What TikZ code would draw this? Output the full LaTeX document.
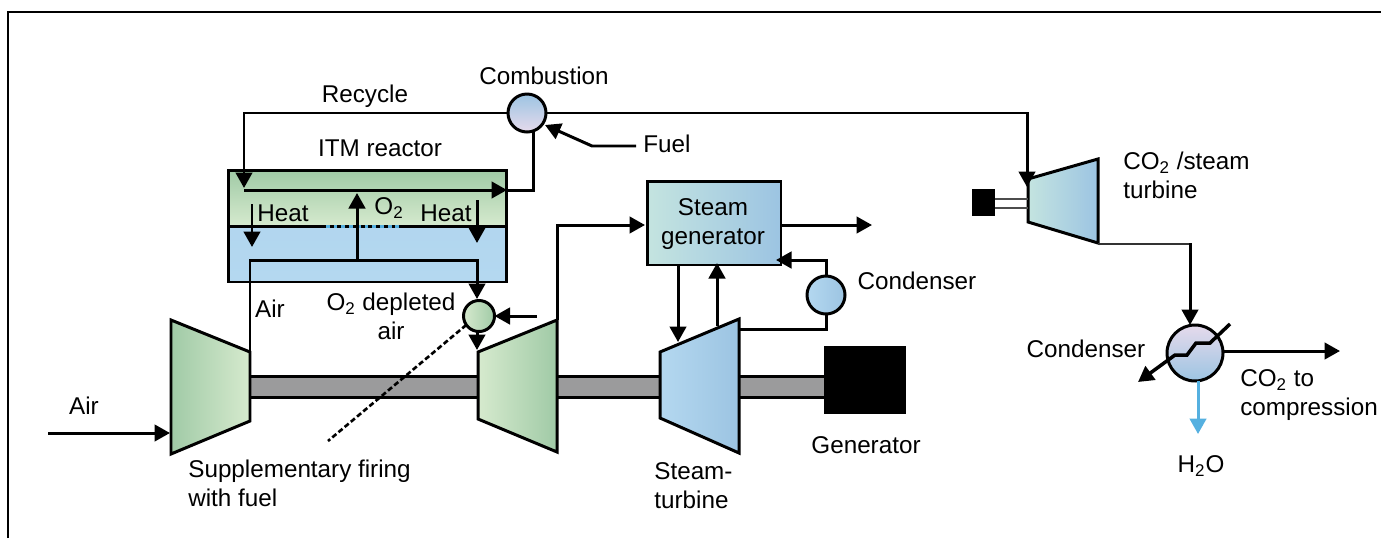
\documentclass[tikz,border=0pt]{standalone}
\usepackage{fontspec}
\setmainfont{Liberation Sans}
\usepackage{xcolor}
\usetikzlibrary{arrows.meta,calc,positioning}
\definecolor{grnDark}{HTML}{A0CAA6}
\definecolor{grnLight}{HTML}{D6EACE}
\definecolor{bluLight}{HTML}{B4D8F0}
\definecolor{bluDark}{HTML}{9CC4E2}
\definecolor{tealLight}{HTML}{C4E4E0}
\definecolor{lilac}{HTML}{E6DAEC}
\definecolor{waterBlue}{HTML}{55B0E0}
\definecolor{shaftGray}{HTML}{9B9B9C}
\tikzset{
  line/.style={line width=1.7pt,line join=miter},
  label/.style={inner sep=0pt,align=left,font=\fontsize{13.8}{16.4}\selectfont},
  vessel/.style={draw,line width=1.7pt,circle,inner sep=0pt,outer sep=0pt},
  box/.style={draw,line width=1.7pt,rectangle,inner sep=0pt,outer sep=0pt},
}
\begin{document}
\begin{tikzpicture}[x=0.02cm,y=-0.02cm,>={Triangle[length=3.1mm,width=3.3mm]}]
\useasboundingbox (0,0) rectangle (1381,538);
\draw[line width=0.6pt] (8,538) -- (8,12) -- (1381,12);
% shaft
\fill[shaftGray] (250,376) rectangle (826,397);
\foreach \y in {376,397} {\draw[line] (250,\y) -- (826,\y);}
\node[fill=black,inner sep=0pt,minimum width=1.64cm,minimum height=1.36cm] (gen) at (865,380) {};
% machines
\draw[line width=1.7pt,left color=grnDark,right color=grnLight] (171,320) -- (250,352) -- (250,421) -- (171,454) -- cycle;
\draw[line width=1.7pt,left color=grnLight,right color=grnDark] (478,352) -- (557,320) -- (557,452) -- (478,419) -- cycle;
\draw[line width=1.7pt,left color=bluLight,right color=bluDark] (660,352) -- (739,319) -- (739,453) -- (660,418) -- cycle;
\draw[line width=1.7pt,left color=tealLight,right color=bluDark] (1028,179) -- (1098,159) -- (1098,243) -- (1028,222) -- cycle;
\coordinate (compOut) at (250,352);
\coordinate (turbIn) at (477,350);
\coordinate (turbOut) at (557,320);
\coordinate (steamIn) at (678,342);
\coordinate (steamBleed) at (717,326);
\coordinate (steamOut) at (739,329);
\coordinate (co2In) at (1027,187);
\coordinate (co2Out) at (1098,244);
% ITM reactor
\node[box,top color=grnDark,bottom color=grnLight,minimum width=5.58cm,minimum height=1.12cm] (hot) at (367.5,198) {};
\node[box,top color=bluLight!90!bluDark,bottom color=bluLight,minimum width=5.58cm,minimum height=1.12cm] (cold) at (367.5,254) {};
\draw[line width=1.7pt,waterBlue] (322,226) -- (403,226);
\draw[line width=1.7pt,dash pattern=on 2.2pt off 2.2pt] (322,226) -- (403,226);
% vessels
\node[vessel,top color=bluDark,bottom color=lilac,minimum size=0.76cm] (comb) at (527,113) {};
\node[vessel,left color=grnLight,right color=grnDark,minimum size=0.62cm] (depl) at (479,316) {};
\node[vessel,left color=bluLight,right color=bluDark,minimum size=0.76cm] (cond) at (826,295) {};
\node[vessel,top color=lilac,bottom color=bluDark,minimum size=1.12cm] (cooler) at (1195,353) {};
\node[box,left color=tealLight,right color=bluDark,minimum width=2.68cm,minimum height=1.68cm] (sgen) at (714,223) {};
% CO2 turbine shaft
\node[fill=black,inner sep=0pt,minimum width=0.46cm,minimum height=0.54cm] (gen2) at (983.5,202.5) {};
\foreach \y in {199,208} {\draw[line width=0.8pt,black!70] (995,\y) -- (1028,\y);}
% recycle loop
\coordinate (rin) at (244,188);
\coordinate (rstart) at (244,190);
\coordinate (rend) at (507,190);
\coordinate (rback) at (533,190);
\draw[line,->] (comb.west) -| (rin);
\draw[line,->] (rstart) -- (rend);
\draw[line] (rend) -- (rback) -- (comb.south -| rback);
\draw[line,->] (comb.east) -| (co2In);
% fuel
\coordinate (fuelEnd) at (636,146);
\coordinate (fuelBend) at (592,146);
\coordinate (fuelTip) at (545,125);
\draw[line,->] (fuelEnd) -- (fuelBend) -- (fuelTip);
% heat and oxygen
\coordinate (heatA) at (252,204);
\coordinate (heatB) at (252,247);
\coordinate (heatC) at (477,200);
\coordinate (heatD) at (477,243);
\draw[line,->] (heatA) -- (heatB);
\draw[line,->] (heatC) -- (heatD);
\coordinate (airTop) at (250,260);
\coordinate (oxBase) at (357,260);
\coordinate (oxTip) at (357,193);
\coordinate (deplIn) at (477,299);
\draw[line] (compOut) -- (airTop) -- (oxBase);
\draw[line,->] (oxBase) -- (oxTip);
\draw[line,->] (oxBase) -| (deplIn);
\coordinate (deplFuel) at (537,316);
\draw[line,->] (deplFuel) -- (depl.east);
\draw[line,->] (depl.south -| turbIn) -- (turbIn);
\coordinate (fireEnd) at (328,441);
\draw[line width=1.5pt,dash pattern=on 3pt off 1.6pt] (depl.215) -- (fireEnd);
% air in
\coordinate (airStart) at (48,433);
\coordinate (airTip) at (170,433);
\draw[line,->] (airStart) -- (airTip);
% steam side
\coordinate (sgenIn) at (645,225);
\coordinate (sgenOutTip) at (872,225);
\draw[line,->] (turbOut) |- (sgenIn);
\draw[line,->] (sgen.east |- sgenOutTip) -- (sgenOutTip);
\draw[line,->] (sgen.south -| steamIn) -- (steamIn);
\coordinate (bleedTip) at (717,263);
\draw[line,->] (steamBleed) -- (bleedTip);
\coordinate (condTip) at (776,260);
\draw[line,->] (cond.north) |- (condTip);
\draw[line] (cond.south) |- (steamOut);
% CO2 side
\coordinate (coolIn) at (1190,325);
\draw[line width=0.9pt,black!80] (co2Out) -- (coolIn |- co2Out);
\draw[line,->] ($(coolIn |- co2Out)+(0,-1)$) -- (coolIn);
\coordinate (co2Tip) at (1340,351);
\draw[line,->] (cooler.east |- co2Tip) -- (co2Tip);
\coordinate (waterTip) at (1198,434);
\draw[line,waterBlue,->] (cooler.south -| waterTip) -- (waterTip);
\coordinate (coilA) at (1230,324);
\coordinate (coilB) at (1210,343);
\coordinate (coilC) at (1196,343);
\coordinate (coilD) at (1187,355);
\coordinate (coilE) at (1175,355);
\coordinate (coilTip) at (1138,382);
\draw[line,->,line width=2pt] (coilA) -- (coilB) -- (coilC) -- (coilD) -- (coilE) -- (coilTip);
% labels
\node[label] (lcomb) at (544,76) {Combustion};
\node[label] (lrec) at (365,96) {Recycle};
\node[label] (litm) at (380,148) {ITM reactor};
\node[label] (lfuel) at (667,144) {Fuel};
\node[label] (lheatA) at (283,213) {Heat};
\node[label] (lox) at (389,208) {O\textsubscript{2}};
\node[label] (lheatB) at (446,213) {Heat};
\node[label] (lair) at (270,309) {Air};
\node[label,align=center] (ldepl) at (391,316) {O\textsubscript{2} depleted\\air};
\node[label,align=center] (lsgen) at (713,224) {Steam\\generator};
\node[label] (lcond) at (917,281) {Condenser};
\node[label] (lgen) at (866,445) {Generator};
\node[label,anchor=west] (lsteam) at (654,486) {Steam-\\turbine};
\node[label,anchor=west] (lco2t) at (1123,175) {CO\textsubscript{2} /steam\\turbine};
\node[label] (lcooler) at (1086,349) {Condenser};
\node[label,anchor=west] (lcomp) at (1240,395) {CO\textsubscript{2} to\\compression};
\node[label] (lwater) at (1201,466) {H\textsubscript{2}O};
\node[label] (lairin) at (84,406) {Air};
\node[label,anchor=west] (lfire) at (188,483) {Supplementary firing\\with fuel};
\end{tikzpicture}
\end{document}
